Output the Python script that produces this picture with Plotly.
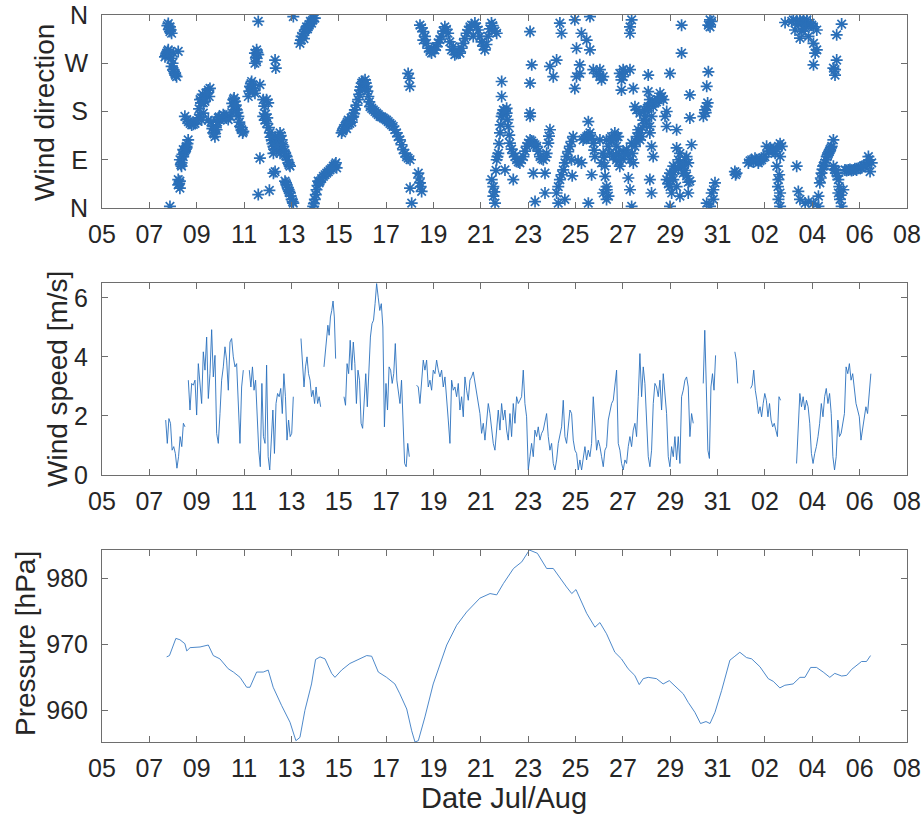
import numpy as np
import pandas as pd
import plotly.graph_objects as go

# ---------------- data (time = fractional day of July; 32 = 1 Aug) ----------------
BASE = pd.Timestamp("2016-06-30")

# Wind direction observations: (day, degrees from north)
dir_obs = [
    (7.80,344),(7.87,338),(7.90,332),(7.94,326),(7.87,329),
    (7.66,282),(7.73,289),(7.80,295),(7.87,286),(7.94,279),(8.01,289),(8.22,292),
    (7.94,264),(8.01,258),(8.08,251),(8.15,245),(8.04,255),(7.87,3),
    (8.22,43),(8.29,50),(8.22,53),(8.29,37),
    (8.29,90),(8.36,84),(8.36,78),(8.43,96),(8.50,106),(8.57,115),(8.64,127),(8.57,112),(8.43,109),
    (8.50,171),(8.65,161),(8.79,155),(8.93,158),(9.07,168),(9.14,174),(9.28,177),(9.21,164),
    (9.14,202),(9.21,205),(9.28,196),(9.42,208),(9.49,220),(9.56,223),(9.53,208),(9.35,199),
    (9.49,164),(9.70,152),(9.70,140),(9.77,133),(9.84,146),(9.91,168),(9.98,164),(10.12,174),
    (10.26,168),(10.41,171),(10.55,189),(10.55,202),(10.62,199),(10.69,183),(10.76,171),
    (10.83,152),(10.97,143),(10.90,146),
    (11.18,208),(11.25,227),(11.32,236),(11.39,223),(11.46,214),(11.67,230),(11.60,348),
    (11.46,289),(11.53,295),(11.60,286),(11.53,273),(11.46,270),
    (11.67,93),(11.60,25),(12.07,33),(12.31,276),(12.34,261),
    (11.81,202),(11.95,202),(12.02,196),(11.81,171),(11.88,164),(11.95,158),
    (12.09,140),(12.17,127),(12.24,115),(12.31,133),(12.38,109),(12.45,121),(12.52,140),
    (12.59,127),(12.66,115),(12.73,102),(12.80,96),(12.24,102),(12.38,127),(12.52,102),
    (12.87,84),(12.94,78),(12.31,68),(12.24,65),
    (12.73,50),(12.80,43),(12.87,34),(12.94,28),(13.01,16),(13.08,9),(13.08,357),
    (13.36,307),(13.43,320),(13.57,329),(13.64,338),(13.71,338),(13.85,345),(13.92,354),(13.99,354),
    (13.92,3),(13.99,16),(14.06,34),(14.13,50),
    (14.21,50),(14.35,59),(14.49,65),(14.63,71),(14.77,78),(14.84,81),(14.91,75),
    (15.12,140),(15.26,152),(15.40,164),(15.47,158),(15.61,171),(15.68,183),(15.82,202),
    (15.90,220),(15.97,233),(16.11,239),(16.18,227),(16.25,208),(16.32,189),(16.46,183),
    (16.60,177),(16.74,171),(16.88,168),(17.02,164),(17.16,158),(17.30,152),(17.44,140),
    (17.58,127),(17.72,109),(17.86,96),(18.01,90),(18.36,65),(18.43,47),(18.50,31),
    (18.01,37),(18.08,9),(17.93,251),(17.97,242),(18.00,227),
    (18.43,341),(18.57,329),(18.71,307),(18.92,289),(19.13,301),(19.34,320),(19.48,338),
    (19.62,326),(19.76,295),(19.90,286),(20.12,289),(20.26,307),(20.40,326),(20.54,338),
    (20.75,345),(20.89,332),(21.03,310),(21.17,295),(21.31,320),(21.45,345),(21.67,326),
    (18.57,313),(18.99,295),(19.83,301),(20.68,320),
    (21.53,22),(21.60,9),(21.46,53),(21.53,40),(21.67,90),(21.74,102),(21.81,140),(21.88,171),
    (21.95,183),(22.09,177),(22.16,152),(22.23,121),(22.37,102),(22.51,90),(22.65,84),
    (22.80,96),(22.94,115),(23.08,127),(23.22,121),(23.36,115),(23.50,96),(23.64,90),
    (23.78,102),(23.85,121),(23.92,146),(23.71,65),(23.22,65),(23.08,177),(23.08,233),
    (23.15,267),(23.08,329),(21.88,236),(21.88,208),(22.09,186),(22.02,71),(22.37,53),
    (23.29,12),(23.71,28),(24.20,28),(24.27,9),(24.55,16),(24.34,53),(24.48,71),(24.62,96),
    (24.76,115),(24.90,133),(24.83,90),(25.25,84),(25.32,127),(25.47,133),(25.61,140),
    (25.75,121),(25.82,96),(25.68,62),(25.54,161),(25.54,9),(26.10,84),(26.25,59),
    (26.32,34),(26.39,22),(26.53,127),(26.74,133),(26.81,102),(25.04,298),(25.18,267),
    (24.97,223),(24.34,345),(24.41,326),(24.97,351),(25.25,326),(25.47,313),(25.61,295),
    (25.61,357),(25.75,258),(25.89,251),(26.03,245),(23.92,264),(24.06,245),(24.20,276),
    (25.04,245),(25.18,251),(23.08,171),
    (26.03,258),(26.17,245),(26.10,239),(26.03,127),(26.17,102),(26.31,127),(26.24,78),
    (26.31,40),(26.17,28),(26.31,16),(26.45,102),(26.52,133),(26.66,140),(26.80,133),
    (26.73,115),(26.59,96),(26.73,90),(26.87,78),(27.01,106),(27.16,109),(27.30,90),
    (27.44,84),(27.37,121),(27.51,115),(27.58,133),(27.65,146),(27.72,127),(27.79,133),
    (27.86,164),(27.93,183),(28.07,189),(28.14,202),(28.28,189),(28.35,196),(28.49,202),
    (28.57,214),(28.64,208),(28.71,202),(28.85,180),(28.78,171),(27.58,183),(27.51,189),
    (27.72,177),(28.00,158),(28.14,140),(28.21,115),(28.28,96),(28.21,171),(28.14,152),
    (28.14,53),(28.21,28),(27.23,56),(27.30,34),(27.37,3),(26.87,251),(26.94,239),
    (27.01,258),(27.09,254),(27.30,258),(27.44,223),(26.94,220),(27.01,245),(28.07,248),
    (28.07,217),(28.99,251),(29.48,341),(29.48,289),(27.30,338),(27.37,351),(27.30,326),
    (28.99,3),(28.85,152),(29.27,146),(29.27,112),(29.41,102),(29.34,90),(29.48,78),
    (29.55,65),(29.62,90),(29.69,96),(29.76,84),(29.83,50),(29.76,28),(29.41,22),
    (29.27,40),(29.13,53),(28.99,65),(28.85,53),(28.99,40),(29.06,28),(29.13,78),
    (29.90,118),(29.83,211),(29.83,168),(30.40,171),(30.47,183),(30.54,189),(30.54,227),
    (30.61,254),(30.68,351),(30.61,341),(30.75,348),(30.68,338),(30.54,9),(30.68,3),
    (30.82,16),(30.75,28),(30.89,47),(30.82,34),
    (31.80,65),(31.73,68),(32.30,84),(32.44,90),(32.58,93),(32.72,84),(32.86,90),(33.00,96),
    (33.07,115),(33.15,106),(33.29,109),(33.43,102),(33.57,115),(33.71,115),(33.64,96),
    (33.50,78),(33.57,53),(33.64,28),(33.57,16),(33.64,3),(34.34,78),(34.41,31),(34.48,16),
    (34.70,9),(34.84,12),(35.05,9),(35.26,3),(35.26,22),(35.32,47),(35.39,65),(35.46,78),
    (35.54,84),(35.61,96),(35.68,102),(35.75,109),(35.82,115),(35.89,127),(35.89,78),
    (36.03,65),(36.10,53),(36.10,28),(36.17,16),(36.24,3),(36.31,34),(36.38,71),(36.52,71),
    (36.73,71),(36.94,74),(37.16,78),(37.30,81),(37.37,96),(37.51,84),(37.44,68),
    (33.85,346),(34.20,351),(34.34,348),(34.48,351),(34.63,351),(34.77,351),(34.91,345),
    (35.05,338),(35.19,332),(34.27,332),(34.48,317),(34.84,320),(35.05,307),(35.19,295),
    (35.12,289),(35.05,267),(36.03,323),(36.24,343),(36.03,276),(35.89,261),(35.96,248),
    (35.96,258),
    # extra observations inside the dense clusters
    (7.76,340),(7.84,333),(7.70,285),(7.77,292),(7.98,270),(8.10,248),(8.26,46),(8.33,81),
    (8.40,100),(8.47,103),(8.54,110),(8.61,120),(8.58,165),(8.72,158),(8.86,156),(9.00,163),
    (9.10,185),(9.18,196),(9.25,212),(9.32,205),(9.39,214),(9.45,215),(9.60,160),(9.66,148),
    (9.74,138),(9.81,150),(9.88,160),(9.95,170),(10.05,168),(10.19,172),(10.33,165),(10.48,178),
    (10.50,195),(10.58,205),(10.65,192),(10.72,178),(10.80,160),(10.87,150),(10.94,140),
    (11.22,218),(11.29,232),(11.36,229),(11.43,219),(11.50,280),(11.56,290),(11.85,190),
    (11.91,175),(11.98,168),(12.05,150),(12.12,132),(12.20,120),(12.27,110),(12.34,120),
    (12.41,116),(12.48,130),(12.55,135),(12.62,118),(12.69,106),(12.76,98),(12.83,90),
    (12.90,81),(12.77,47),(12.84,38),(12.91,31),(12.97,22),(13.05,12),
    (13.40,313),(13.50,325),(13.53,316),(13.61,333),(13.68,334),(13.75,342),(13.80,348),
    (13.89,350),(13.95,8),(14.03,25),(14.10,42),(14.17,47),(14.28,55),(14.42,62),(14.56,68),
    (14.70,74),(14.88,84),
    (15.16,144),(15.20,148),(15.30,155),(15.33,148),(15.36,160),(15.44,162),(15.52,168),
    (15.55,160),(15.65,176),(15.75,192),(15.86,212),(15.93,226),(16.02,236),(16.06,232),
    (16.14,233),(16.21,218),(16.29,198),(16.39,186),(16.53,180),(16.67,174),(16.81,170),
    (16.95,166),(17.09,161),(17.23,155),(17.37,146),(17.51,133),(17.65,118),(17.79,102),
    (17.93,93),(18.39,56),(18.46,40),
    (18.50,336),(18.64,320),(18.78,298),(18.85,292),(19.06,295),(19.20,308),(19.27,314),
    (19.41,330),(19.55,333),(19.69,310),(19.97,288),(20.05,292),(20.19,298),(20.33,316),
    (20.47,332),(20.61,341),(20.82,338),(20.96,320),(21.10,302),(21.24,305),(21.38,334),
    (21.50,340),(21.60,330),
    (21.57,30),(21.64,70),(21.70,96),(21.77,120),(21.84,155),(21.91,176),(22.02,181),
    (22.13,165),(22.20,136),(22.30,110),(22.44,96),(22.58,86),(22.72,90),(22.87,106),
    (23.01,121),(23.15,125),(23.29,118),(23.43,106),(23.57,92),(23.74,95),(23.88,134),
    (24.27,40),(24.41,62),(24.55,84),(24.69,105),(24.83,124),(24.86,60),(25.11,88),
    (25.39,130),(25.54,136),(25.68,130),(25.79,108),(26.20,95),(26.38,115),(26.60,128),
    (26.70,100),(26.84,88),(26.95,92),(27.08,100),(27.23,100),(27.40,102),(27.55,124),
    (27.69,140),(27.82,150),(27.97,172),(28.03,186),(28.21,196),(28.42,198),(28.60,205),
    (28.92,45),(29.00,52),(29.06,62),(29.20,70),(29.34,75),(29.41,85),(29.55,80),
    (29.62,70),(29.69,60),(29.76,48),(30.50,178),(30.58,196),
    (31.76,62),(32.37,88),(32.51,86),(32.65,90),(32.79,88),(32.93,94),(33.22,112),
    (33.36,106),(33.50,110),(33.64,120),(33.60,62),(33.55,40),
    (35.36,56),(35.43,72),(35.50,80),(35.58,90),(35.65,99),(35.72,105),(35.79,112),
    (35.93,72),(36.00,70),(36.06,60),(36.14,40),(36.20,24),(36.45,70),(36.59,72),
    (36.66,70),(36.80,73),(36.87,71),(37.02,76),(37.09,75),(37.23,80),(37.40,90),
    (34.13,348),(34.41,343),(34.55,346),(34.70,340),(34.98,341),(34.56,330),(34.70,335),
]
dir_day = [d for d, _ in dir_obs]
dir_deg = [v for _, v in dir_obs]

# Wind speed [m/s]: continuous record pieces (start day, end day) with regularly sampled values
ws_spans = [(7.690, 8.505), (8.646, 10.968), (11.222, 13.080), (13.404, 14.234),
            (14.375, 14.868), (15.220, 17.979), (18.288, 29.972), (30.394, 30.915),
            (31.730, 31.850), (32.393, 33.660), (34.335, 37.474)]
ws1 = [1.86,1.07,1.91,1.75,0.84,0.96,0.73,0.23,0.62,1.30,0.96,1.75,1.63]
ws2 = [3.21,2.2,3.1,3.04,3.21,2.03,3.77,3.1,2.42,4.17,3.55,4.67,2.59,3.43,4.92,3.32,4.05,
       1.41,1.07,2.08,3.21,3.66,4.34,3.89,2.87,4.5,4.62,4.0,3.66,3.77,2.31,1.07,2.98,3.55]
ws3 = [3.55,2.98,3.66,2.87,3.21,1.97,0.84,0.28,3.1,1.3,1.07,3.72,0.62,0.17,1.3,2.2,0.73,
       2.42,2.76,2.65,2.93,2.08,3.43,2.65,1.18,1.86,1.3,1.41,2.65]
ws4 = [4.62,3.55,2.98,3.66,4.0,3.43,3.21,2.65,2.87,2.42,2.98,2.42,2.65,2.31]
ws5 = [3.66,4.22,4.67,5.07,4.73,5.35,5.57,5.89,5.35,3.94]
ws6 = [2.65,2.36,3.77,3.43,4.56,3.55,4.5,3.77,2.42,3.55,3.21,1.75,1.58,2.42,3.43,2.31,3.66,
       4.67,5.12,5.24,5.8,6.48,6.02,5.57,5.8,5.01,1.63,3.1,2.2,3.66,3.55,3.1,3.43,4.45,3.21,
       2.87,2.42,3.21,1.52,0.39,0.28,1.07,0.62]
ws7 = [3.04,2.98,2.42,3.32,3.89,3.55,3.89,2.98,3.21,2.87,3.55,3.43,3.89,3.55,3.32,3.55,2.98,
       3.32,2.42,1.86,1.07,3.21,2.87,2.98,2.65,3.1,2.2,2.65,1.97,3.32,2.87,2.53,3.21,3.32,3.49,
       3.1,2.76,2.42,2.08,1.41,1.75,1.18,1.97,2.42,2.08,1.63,1.07,0.84,1.63,2.2,1.52,2.42,1.86,
       2.2,1.52,1.18,2.08,1.3,2.42,1.75,2.65,2.42,2.53,2.65,3.55,2.42,1.97,0.17,0.62,1.07,0.62,
       1.52,1.3,1.63,1.18,1.41,1.52,1.86,2.08,1.3,0.84,1.07,0.39,0.17,0.51,1.07,1.3,1.63,2.53,
       1.3,1.07,1.63,2.2,2.08,1.18,0.84,0.73,0.17,0.51,0.17,0.62,0.96,0.51,0.84,0.62,1.07,2.65,
       1.52,0.84,1.18,0.96,0.62,0.28,0.84,0.96,1.86,2.2,2.42,2.53,2.98,3.55,1.07,0.84,
       0.39,0.17,0.51,0.39,0.96,1.3,0.96,1.52,1.75,1.3,2.65,4.11,2.65,3.66,3.1,2.08,0.62,0.28,
       0.84,2.42,3.1,2.98,2.65,3.21,2.2,3.43,2.65,2.08,0.62,0.28,0.96,0.62,1.3,0.51,1.3,0.39,
       2.65,2.87,3.21,3.32,2.98,1.3,2.08,1.75]
ws8 = [3.1,4.9,2.98,0.84,0.56,2.98,3.43,2.87,4.05]
ws9 = [4.17,3.89,3.1]
ws10 = [2.93,3.04,3.55,2.87,2.53,2.08,2.31,1.97,2.42,2.76,2.53,1.97,2.42,1.86,1.63,1.75,1.52,
        1.3,2.65,2.53]
ws11 = [0.39,1.75,2.76,2.31,2.65,2.2,2.53,2.31,1.75,0.73,0.39,0.73,0.96,1.3,1.75,2.42,1.97,
        2.65,2.93,2.42,2.76,2.08,0.62,0.17,0.62,1.86,1.3,1.41,1.75,2.08,3.66,3.43,3.77,3.21,
        3.43,2.87,2.42,2.2,1.97,1.18,1.52,1.86,2.31,2.08,2.87,3.43]
ws_pieces = [ws1, ws2, ws3, ws4, ws5, ws6, ws7, ws8, ws9, ws10, ws11]

# Pressure [hPa]
p_day = [7.73,7.85,8.12,8.29,8.50,8.58,8.72,9.14,9.49,9.70,9.98,10.33,10.55,10.83,11.11,11.25,
         11.53,11.81,12.02,12.23,12.59,12.94,13.19,13.36,13.57,13.85,14.02,14.21,14.42,14.70,
         14.84,15.12,15.47,15.76,16.18,16.39,16.67,17.02,17.37,17.58,17.87,18.08,18.22,18.36,
         18.64,18.99,19.56,19.98,20.40,20.96,21.39,21.67,21.95,22.38,22.73,23.05,23.39,23.78,
         24.06,24.62,24.84,25.02,25.47,25.82,26.03,26.31,26.66,26.94,27.22,27.50,27.69,27.86,
         28.07,28.42,28.70,28.96,29.27,29.55,29.76,30.04,30.28,30.51,30.68,30.89,31.17,31.52,
         31.73,31.94,32.22,32.44,32.79,33.14,33.35,33.63,33.84,34.19,34.48,34.69,34.93,35.18,
         35.46,35.74,35.95,36.24,36.45,36.66,37.08,37.29,37.46]
p_hpa = [968.1,968.3,970.9,970.7,970.1,969.0,969.5,969.6,969.9,968.3,967.8,966.3,965.8,965.0,
         963.5,963.5,965.8,965.8,966.1,963.5,960.7,958.2,955.4,955.9,960.0,964.0,967.7,968.1,
         967.8,965.6,965.0,966.1,967.1,967.6,968.3,968.2,965.8,965.0,964.0,962.5,960.2,956.9,
         955.2,955.4,959.0,964.0,969.9,972.9,974.9,977.0,977.7,977.5,979.2,981.5,982.5,984.3,
         983.8,981.5,981.5,978.7,977.7,978.3,974.7,972.6,973.3,971.6,968.8,967.8,966.3,965.3,
         963.9,964.8,965.0,964.8,964.0,964.5,963.5,962.5,961.2,959.7,958.0,958.3,958.0,959.7,
         963.0,967.6,968.2,968.8,968.0,967.8,966.6,964.8,964.4,963.4,963.8,964.0,965.0,965.0,
         966.5,966.5,965.8,965.0,965.6,965.2,965.3,966.2,967.4,967.4,968.3]

dir_ticks = [0, 90, 180, 270, 360]
dir_labels = ["N", "E", "S", "W", "N"]
ws_ticks = [0, 2, 4, 6]
p_ticks = [960, 970, 980]

# ---------------- build ----------------
def to_time(days):
    return [None if d is None else BASE + pd.Timedelta(days=float(d)) for d in days]

ws_x, ws_y = [], []
for (t0, t1), vals in zip(ws_spans, ws_pieces):
    ws_x.extend(np.linspace(t0, t1, len(vals)).tolist() + [None])
    ws_y.extend(list(vals) + [None])

MARK = "#2a6fb8"
fig = go.Figure()
fig.add_trace(go.Scatter(x=to_time(dir_day), y=dir_deg, mode="markers",
                         marker=dict(symbol="asterisk-open", size=10, color=MARK,
                                     line=dict(width=1.7, color=MARK)),
                         xaxis="x", yaxis="y", showlegend=False))
fig.add_trace(go.Scatter(x=to_time(ws_x), y=ws_y, mode="lines", connectgaps=False,
                         line=dict(color="#2a70bd", width=0.9),
                         xaxis="x2", yaxis="y2", showlegend=False))
fig.add_trace(go.Scatter(x=to_time(p_day), y=p_hpa, mode="lines",
                         line=dict(color="#3a7cc4", width=0.9),
                         xaxis="x3", yaxis="y3", showlegend=False))

TICKFONT = dict(family="Liberation Sans, Arial, sans-serif", size=25, color="#262626")
AX = dict(showline=True, linecolor="#6e6e6e", linewidth=1, mirror="allticks",
          ticks="inside", ticklen=6, tickcolor="#6e6e6e", tickwidth=1,
          showgrid=False, zeroline=False, tickfont=TICKFONT, automargin=False)
XD = [102 / 924, 907 / 924]
xr = [BASE + pd.Timedelta(days=5), BASE + pd.Timedelta(days=39)]

def xax(anchor):
    return dict(AX, type="date", domain=XD, range=xr, anchor=anchor,
                tick0=BASE + pd.Timedelta(days=5), dtick=2 * 86400000,
                tickformat="%d", ticklabelstandoff=4)

def ydom(top, bot):
    return [1 - bot / 819, 1 - top / 819]

fig.update_layout(
    width=924, height=819, margin=dict(l=0, r=0, t=0, b=0, autoexpand=False),
    paper_bgcolor="white", plot_bgcolor="white",
    xaxis=xax("y"), xaxis2=xax("y2"), xaxis3=xax("y3"),
    yaxis=dict(AX, domain=ydom(15, 208), range=[0, 360], tickvals=dir_ticks,
               ticktext=dir_labels, anchor="x", ticklabelstandoff=8),
    yaxis2=dict(AX, domain=ydom(283, 475), range=[0, 6.5], tickvals=ws_ticks,
                anchor="x2", ticklabelstandoff=8),
    yaxis3=dict(AX, domain=ydom(550, 742), range=[955.2, 984.3], tickvals=p_ticks,
                anchor="x3", ticklabelstandoff=8),
)

TF = dict(family="Liberation Sans, Arial, sans-serif", size=28, color="#262626")
def ylab(text, xpx, ypx):
    fig.add_annotation(text=text, xref="paper", yref="paper", x=xpx / 924, y=1 - ypx / 819,
                       xanchor="center", yanchor="middle", textangle=-90, showarrow=False,
                       font=TF)
ylab("Wind direction", 45, 113)
ylab("Wind speed [m/s]", 57, 379)
ylab("Pressure [hPa]", 25, 644)
fig.add_annotation(text="Date Jul/Aug", xref="paper", yref="paper", x=504 / 924,
                   y=1 - 798 / 819, xanchor="center", yanchor="middle", showarrow=False,
                   font=dict(TF, size=29))

fig.write_html("out.html")
